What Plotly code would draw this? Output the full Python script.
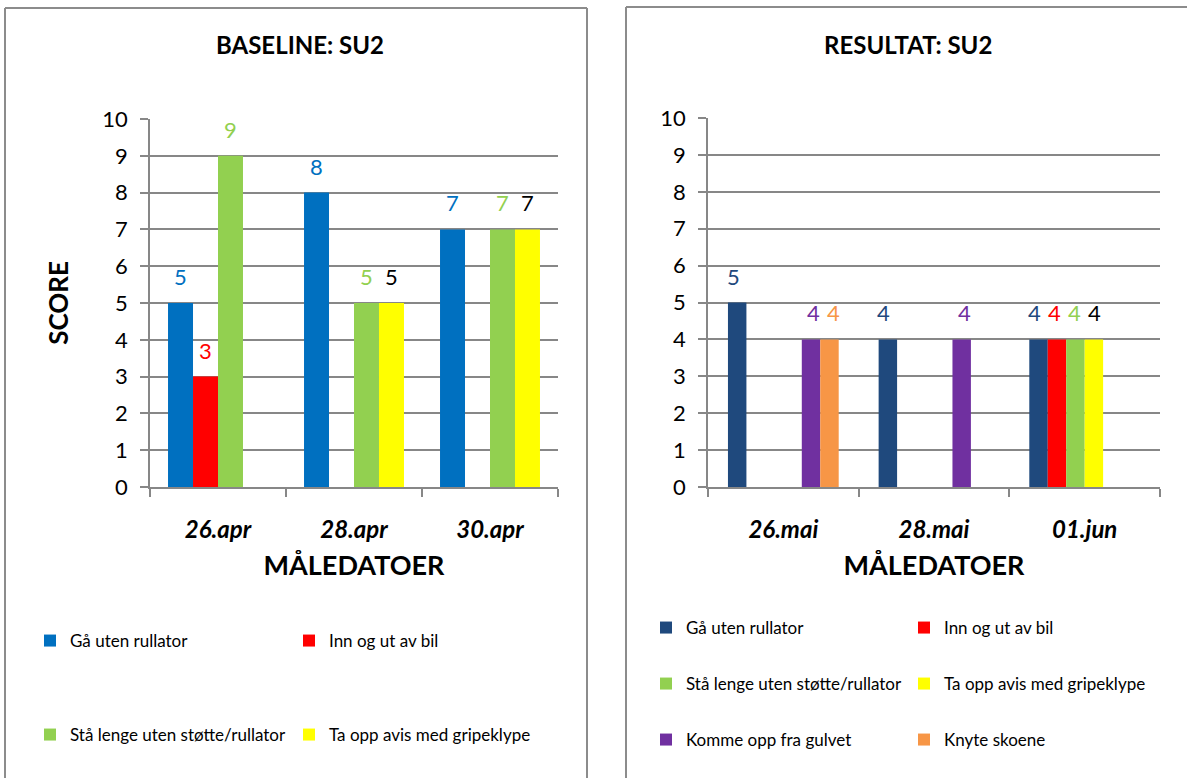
import plotly.graph_objects as go

W, H = 1187, 778
FONT = "Lato"

# Baseline measurements (left panel)
base_dates = ["26.apr", "28.apr", "30.apr"]
base_series = ["Gå uten rullator", "Inn og ut av bil",
               "Stå lenge uten støtte/rullator", "Ta opp avis med gripeklype"]
base_values = [
    [5, 8, 7],
    [3, None, None],
    [9, 5, 7],
    [None, 5, 7],
]
base_colors = ["#0070C0", "#FF0000", "#92D050", "#FFFF00"]
base_label_colors = ["#0070C0", "#FF0000", "#92D050", "#000000"]

# Result measurements (right panel)
res_dates = ["26.mai", "28.mai", "01.jun"]
res_series = ["Gå uten rullator", "Inn og ut av bil",
              "Stå lenge uten støtte/rullator", "Ta opp avis med gripeklype",
              "Komme opp fra gulvet", "Knyte skoene"]
res_values = [
    [5, 4, 4],
    [None, None, 4],
    [None, None, 4],
    [None, None, 4],
    [4, 4, None],
    [4, None, None],
]
res_colors = ["#1F497D", "#FF0000", "#92D050", "#FFFF00", "#7030A0", "#F79646"]
res_label_colors = ["#1F497D", "#FF0000", "#92D050", "#000000", "#7030A0", "#F79646"]

y_ticks = list(range(0, 11))


def px_x(v):
    return v / W


def px_y(v):
    return 1 - v / H


GRID = "#878787"
panels = [
    dict(xa="x", ya="y", dom=(150, 558), ydom=(487, 119), gap=0.265,
         dates=base_dates, names=base_series, vals=base_values,
         colors=base_colors, lcolors=base_label_colors,
         legend_pos=[(30, 641), (289, 641), (30, 735), (289, 735)],
         title="BASELINE: SU2", title_xy=(300, 45), legbase=1),
    dict(xa="x2", ya="y2", dom=(708, 1160), ydom=(487, 118), gap=0.2,
         dates=res_dates, names=res_series, vals=res_values,
         colors=res_colors, lcolors=res_label_colors,
         legend_pos=[(646, 628), (904, 628), (646, 684), (904, 684),
                     (646, 740), (904, 740)],
         title="RESULTAT: SU2", title_xy=(908, 44), legbase=5),
]

fig = go.Figure()
annotations = []
layout_extra = {}

for p in panels:
    n = len(p["names"])
    cat_px = (p["dom"][1] - p["dom"][0]) / len(p["dates"])
    bar_px = cat_px * (1 - p["gap"]) / n
    for k, (name, vals) in enumerate(zip(p["names"], p["vals"])):
        leg_id = p["legbase"] + k
        leg_key = "legend" if leg_id == 1 else f"legend{leg_id}"
        fig.add_trace(go.Bar(
            x=p["dates"], y=vals, name=name,
            marker=dict(color=p["colors"][k], line=dict(width=0)),
            xaxis=p["xa"], yaxis=p["ya"], legend=leg_key,
            offsetgroup=str(k),
        ))
        lx, ly = p["legend_pos"][k]
        layout_extra[leg_key] = dict(
            x=px_x(lx), y=px_y(ly), xanchor="left", yanchor="middle",
            bgcolor="rgba(0,0,0,0)", font=dict(family=FONT, size=17, color="#000"),
            itemwidth=30, orientation="v",
        )
        # value labels above each bar
        for date, v in zip(p["dates"], vals):
            if v is None:
                continue
            annotations.append(dict(
                x=date, y=v, xref=p["xa"], yref=p["ya"], text=str(v),
                showarrow=False, yanchor="bottom", yshift=11,
                xshift=(k - (n - 1) / 2) * bar_px,
                font=dict(family=FONT, size=22, color=p["lcolors"][k]),
            ))
    tx, ty = p["title_xy"]
    annotations.append(dict(
        x=px_x(tx), y=px_y(ty), xref="paper", yref="paper",
        xanchor="center", yanchor="middle",
        text="<b>" + p["title"] + "</b>", showarrow=False,
        font=dict(family=FONT, size=24, color="#000"),
    ))

axis_common_x = dict(
    type="category", showgrid=False, showline=True, linecolor=GRID, linewidth=1.5,
    ticks="outside", ticklen=8, tickcolor=GRID, tickwidth=1.5, tickson="boundaries",
    tickfont=dict(family=FONT, size=24, color="#000", weight="bold", style="italic"),
    ticklabelstandoff=20,
    title=dict(text="<b>MÅLEDATOER</b>", font=dict(family=FONT, size=27, color="#000"),
               standoff=15),
    fixedrange=True,
)
axis_common_y = dict(
    range=[0, 10], tickvals=y_ticks, showgrid=True, gridcolor=GRID, gridwidth=1.5,
    showline=True, linecolor=GRID, linewidth=1.5, zeroline=False,
    ticks="outside", ticklen=8, tickcolor=GRID, tickwidth=1.5,
    tickfont=dict(family=FONT, size=22, color="#000"), ticklabelstandoff=8,
    fixedrange=True,
)

fig.update_layout(
    width=W, height=H, autosize=False,
    margin=dict(l=0, r=0, t=0, b=0, autoexpand=False),
    paper_bgcolor="white", plot_bgcolor="white",
    barmode="group",
    showlegend=True,
    xaxis=dict(axis_common_x, domain=[px_x(150), px_x(558)], anchor="y"),
    yaxis=dict(axis_common_y, domain=[px_y(487), px_y(119)], anchor="x",
               title=dict(text="<b>SCORE</b>", font=dict(family=FONT, size=26, color="#000"),
                          standoff=26)),
    xaxis2=dict(axis_common_x, domain=[px_x(708), px_x(1160)], anchor="y2"),
    yaxis2=dict(axis_common_y, domain=[px_y(487), px_y(118)], anchor="x2"),
    annotations=annotations,
    **layout_extra,
)
fig.update_layout(bargap=0.265)

# panel frames
BORDER = "#8C8C8C"
frame_lines = [
    (5, 8, 5, 790), (5, 8, 587, 8), (587, 8, 587, 790),
    (626, 7, 626, 790), (626, 7, 1200, 7),
]
for x0, y0, x1, y1 in frame_lines:
    fig.add_shape(type="line", xref="paper", yref="paper",
                  x0=px_x(x0), y0=px_y(y0), x1=px_x(x1), y1=px_y(y1),
                  line=dict(color=BORDER, width=2))

fig.write_html("out.html")
